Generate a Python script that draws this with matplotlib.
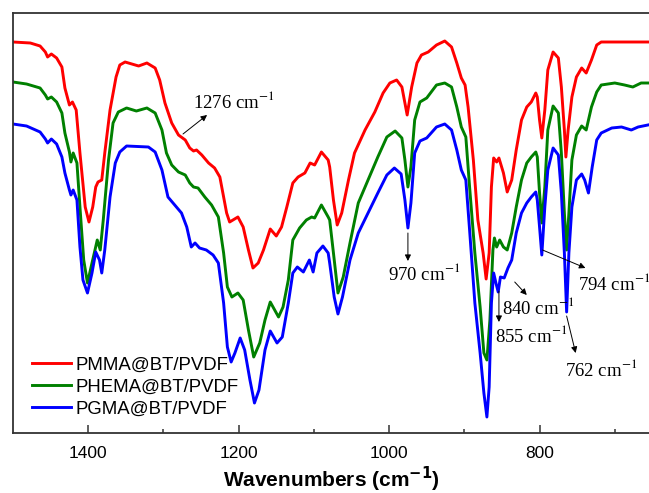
import matplotlib
matplotlib.use("Agg")
import matplotlib.pyplot as plt

# ---------------- data ----------------
pmma_wn = [1500, 1477, 1464, 1457, 1454, 1449, 1442, 1435, 1431, 1425, 1421, 1416, 1411, 1404,
           1399, 1394, 1390, 1387, 1382, 1378, 1371, 1363, 1358, 1351, 1333, 1322, 1311, 1305,
           1298, 1289, 1280, 1271, 1265, 1260, 1256, 1249, 1240, 1232, 1225, 1221, 1216, 1212,
           1201, 1194, 1187, 1181, 1174, 1167, 1158, 1150, 1143, 1136, 1128, 1121, 1112, 1105,
           1099, 1090, 1081, 1079, 1074, 1069, 1063, 1054, 1046, 1032, 1019, 1008, 999, 990,
           983, 976, 970, 963, 957, 948, 937, 926, 917, 910, 904, 899, 895, 888, 882, 875, 871,
           867, 864, 861, 857, 854, 848, 843, 837, 831, 824, 817, 811, 805, 803, 800, 797, 793,
           789, 782, 775, 771, 767, 765, 762, 757, 751, 744, 738, 731, 724, 718, 696, 673, 656]
pmma_t = [391, 390, 387, 381, 376, 379, 375, 366, 345, 328, 331, 323, 280, 226,
          211, 226, 246, 251, 253, 280, 323, 356, 368, 371, 367, 370, 365, 353,
          330, 310, 298, 293, 285, 282, 283, 278, 270, 265, 256, 240, 220, 211,
          216, 206, 183, 165, 170, 183, 204, 197, 206, 226, 250, 256, 260, 270,
          268, 281, 273, 266, 233, 208, 220, 253, 280, 303, 321, 340, 350, 353,
          346, 318, 346, 370, 378, 381, 388, 392, 386, 370, 355, 348, 326, 273, 213, 180, 154,
          180, 246, 275, 271, 275, 260, 241, 253, 283, 313, 326, 331, 340, 336, 313, 295, 323,
          363, 381, 375, 346, 303, 276, 303, 336, 356, 365, 360, 373, 388, 391, 391, 391, 391]

phema_wn = [1500, 1482, 1464, 1457, 1454, 1449, 1442, 1435, 1431, 1425, 1423, 1420, 1415, 1411,
            1406, 1401, 1395, 1391, 1388, 1384, 1380, 1373, 1367, 1360, 1349, 1336, 1322, 1311,
            1302, 1296, 1289, 1280, 1271, 1265, 1260, 1254, 1245, 1236, 1227, 1220, 1215, 1209,
            1201, 1194, 1187, 1180, 1172, 1165, 1158, 1147, 1141, 1134, 1128, 1119, 1110, 1103,
            1099, 1090, 1081, 1079, 1074, 1068, 1061, 1052, 1041, 1028, 1015, 1003, 992, 983,
            979, 975, 971, 966, 959, 950, 937, 926, 917, 910, 904, 898, 893, 886, 879, 874, 870,
            866, 862, 860, 857, 853, 848, 843, 837, 831, 824, 817, 811, 805, 803, 800, 797, 793,
            789, 782, 775, 771, 767, 764, 761, 757, 751, 744, 738, 731, 724, 718, 700, 687, 676,
            665, 656]
phema_t = [351, 349, 345, 338, 334, 336, 331, 320, 300, 281, 271, 280, 270, 226,
           173, 150, 170, 183, 193, 183, 213, 273, 310, 321, 325, 322, 325, 320,
           303, 280, 268, 261, 258, 250, 246, 245, 236, 228, 216, 180, 146, 136,
           140, 133, 103, 76, 90, 113, 131, 116, 126, 153, 193, 205, 213, 216,
           215, 228, 216, 213, 180, 140, 156, 190, 230, 253, 276, 296, 302, 295,
           273, 246, 266, 313, 331, 335, 348, 350, 346, 326, 306, 296, 246, 180, 126, 80, 73,
           113, 183, 195, 186, 193, 186, 183, 200, 226, 253, 270, 276, 281, 276, 240, 210, 246,
           303, 327, 320, 280, 220, 183, 220, 273, 298, 307, 303, 326, 341, 348, 350, 348, 346,
           350, 350]

pgma_wn = [1500, 1482, 1464, 1457, 1454, 1449, 1442, 1435, 1431, 1425, 1423, 1420, 1415, 1411,
           1407, 1401, 1395, 1390, 1385, 1382, 1378, 1371, 1364, 1358, 1349, 1320, 1311, 1302,
           1294, 1285, 1276, 1269, 1263, 1258, 1252, 1243, 1234, 1227, 1220, 1215, 1210, 1205,
           1198, 1192, 1185, 1179, 1173, 1165, 1158, 1149, 1142, 1134, 1128, 1122, 1114, 1106,
           1101, 1096, 1088, 1081, 1079, 1073, 1068, 1062, 1052, 1041, 1028, 1015, 1003, 993,
           984, 979, 975, 971, 966, 959, 950, 937, 926, 917, 910, 904, 898, 893, 886, 879, 874,
           870, 867, 864, 861, 858, 855, 852, 847, 842, 837, 831, 824, 817, 811, 805, 803, 800,
           797, 793, 789, 782, 775, 771, 767, 764, 761, 757, 751, 744, 740, 735, 730, 724, 718,
           704, 691, 678, 669, 656]
pgma_t = [309, 307, 301, 294, 290, 294, 289, 276, 260, 243, 238, 243, 233, 186,
          153, 140, 160, 181, 173, 160, 183, 236, 270, 281, 287, 286, 281, 263,
          236, 228, 220, 206, 186, 190, 185, 183, 178, 170, 130, 86, 71, 80,
          95, 83, 53, 30, 43, 83, 102, 90, 96, 130, 160, 166, 161, 173,
          161, 180, 187, 180, 170, 136, 119, 136, 173, 200, 220, 240, 258, 265,
          259, 233, 205, 230, 280, 292, 295, 306, 309, 303, 283, 263, 253, 203, 130, 80, 40,
          16, 46, 130, 160, 150, 141, 156, 155, 165, 173, 200, 220, 230, 236, 241, 233, 206,
          178, 226, 263, 285, 278, 240, 180, 121, 180, 226, 253, 259, 253, 240, 266, 293, 300,
          305, 306, 303, 306, 308]

series_labels = ["PMMA@BT/PVDF", "PHEMA@BT/PVDF", "PGMA@BT/PVDF"]
series_colors = ["#ff0000", "#008000", "#0000ff"]

xticks_major = [1400, 1200, 1000, 800]
xticks_minor = [1300, 1100, 900, 700]

# peak annotations: label, arrow tail (wn, t), arrow head (wn, t), text pos (wn, t)
annot_labels = ["1276", "970", "794", "840", "855", "762"]
annot_tail = [(1274, 299), (975, 200), (796, 183), (833, 151), (854, 142), (764, 117)]
annot_head = [(1242, 318), (975, 172), (739, 165), (817, 138), (854, 111), (752, 80)]
annot_text = [(1261, 332), (1002, 160), (749, 150), (850, 125), (859, 97), (766, 63)]

# ---------------- figure ----------------
W, H = 649, 493
fig = plt.figure(figsize=(W / 100, H / 100), dpi=100)
ax = fig.add_axes([13 / W, (H - 433) / H, (649 - 13) / W, 420 / H])

for wn, t, lab, col in zip([pmma_wn, phema_wn, pgma_wn], [pmma_t, phema_t, pgma_t],
                           series_labels, series_colors):
    ax.plot(wn, t, color=col, lw=2.1, label=lab, solid_joinstyle="round")

ax.set_xlim(1500, 654.5)
ax.set_ylim(0, 420)
ax.set_xticks(xticks_major)
ax.set_xticks(xticks_minor, minor=True)
ax.set_yticks([])
ax.tick_params(axis="x", which="major", direction="in", length=6, width=1.1,
               labelsize=12.5, pad=9.2, colors="#333333", labelcolor="black")
ax.tick_params(axis="x", which="minor", direction="in", length=3, width=1.1, colors="#333333")
for lbl in ax.get_xticklabels():
    lbl.set_fontfamily("Liberation Sans")
for side in ["left", "top", "bottom"]:
    ax.spines[side].set_color("#333333")
    ax.spines[side].set_linewidth(1.3)
ax.spines["right"].set_visible(False)

ax.set_xlabel("Wavenumbers (cm$^{\\mathbf{-1}}$)", fontsize=15, fontweight="bold",
              family="Liberation Sans", labelpad=3)

serif = "Liberation Serif"
for lab, tail, head, tpos in zip(annot_labels, annot_tail, annot_head, annot_text):
    ax.annotate("", xy=head, xytext=tail,
                arrowprops=dict(arrowstyle="-|>", color="black", lw=0.7,
                                mutation_scale=9, shrinkA=0, shrinkB=0))
    ax.text(tpos[0], tpos[1], lab + " cm$^{-1}$", ha="left", va="center",
            fontsize=13.5, family=serif, math_fontfamily="stix")

leg = ax.legend(loc="upper left", bbox_to_anchor=(12 / 636, 84 / 420), frameon=False,
                handlelength=2.05, handletextpad=0.25, labelspacing=0.28,
                prop={"family": "Liberation Sans", "size": 13.4}, borderaxespad=0)

fig.savefig("out.png", dpi=100)
